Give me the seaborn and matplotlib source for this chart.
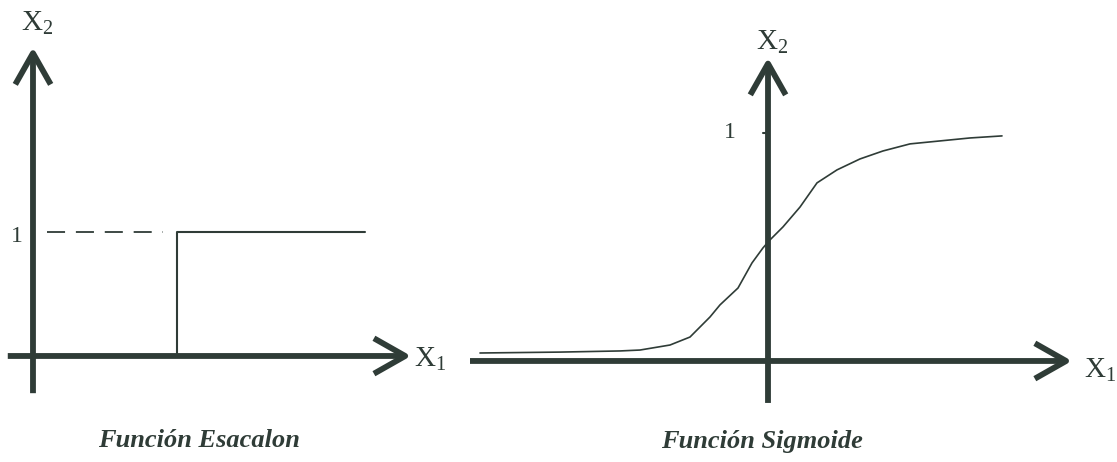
import seaborn as sns
import pandas as pd
import matplotlib.pyplot as plt

# step function (left panel)
step_x = [2.0, 2.0, 4.61]
step_y = [0.0, 1.0, 1.0]
dash_x = [0.19, 1.8]
dash_y = [1.0, 1.0]

# sigmoid (right panel)
sig_x = [-2.88, -2.08, -1.48, -1.28, -0.98, -0.78, -0.58, -0.48, -0.30,
         -0.16, -0.05, 0.02, 0.15, 0.32, 0.49, 0.69, 0.92, 1.15, 1.42,
         1.72, 2.02, 2.34]
sig_y = [0.035, 0.039, 0.044, 0.048, 0.070, 0.105, 0.193, 0.246, 0.320,
         0.430, 0.496, 0.531, 0.588, 0.675, 0.781, 0.838, 0.886, 0.921,
         0.952, 0.965, 0.978, 0.987]

titles = ["Función Esacalon", "Función Sigmoide"]

INK = "#2f3c37"

sns.set_theme(style="white")
plt.rcParams["font.family"] = ["Liberation Serif", "DejaVu Serif"]
plt.rcParams["mathtext.fontset"] = "custom"
plt.rcParams["mathtext.rm"] = "Liberation Serif"
plt.rcParams["mathtext.it"] = "Liberation Serif"

fig = plt.figure(figsize=(11.17, 4.62), dpi=100)
ax1 = fig.add_axes([0, 0, 450 / 1117, 1])
ax2 = fig.add_axes([450 / 1117, 0, 667 / 1117, 1])

ax1.set_xlim(-0.458, 5.79)
ax1.set_ylim(-0.855, 2.871)
ax2.set_xlim(-3.18, 3.49)
ax2.set_ylim(-0.443, 1.583)

for ax in (ax1, ax2):
    ax.axis("off")


def arrow(ax, start, tip):
    ax.annotate("", xy=tip, xytext=start,
                arrowprops=dict(arrowstyle="->,head_length=1.5,head_width=0.85",
                                lw=4.2, color=INK, mutation_scale=15,
                                shrinkA=0, shrinkB=0, capstyle="butt"))


# left panel
arrow(ax1, (-0.35, 0), (5.25, 0))
arrow(ax1, (0, -0.30), (0, 2.49))
sns.lineplot(x=step_x, y=step_y, sort=False, ax=ax1, color=INK, lw=1.5,
             estimator=None)
ax1.plot(dash_x, dash_y, color=INK, lw=1.3, dashes=(10, 6))
ax1.text(0.056, 2.685, r"$\mathrm{X}_2$", fontsize=21, color=INK,
         ha="center", va="center")
ax1.text(5.52, -0.03, r"$\mathrm{X}_1$", fontsize=21, color=INK,
         ha="center", va="center")
ax1.text(-0.22, 0.96, "1", fontsize=17, color=INK, ha="center", va="center")
ax1.text(2.31, -0.685, titles[0], fontsize=19, color=INK, ha="center",
         va="center", fontweight="bold", fontstyle="italic")

# right panel
arrow(ax2, (-2.98, 0), (3.04, 0))
arrow(ax2, (0, -0.184), (0, 1.33))
sns.lineplot(x=sig_x, y=sig_y, sort=False, ax=ax2, color=INK, lw=1.2,
             estimator=None)
ax2.plot([-0.05, 0], [1.0, 1.0], color=INK, lw=1.5)
ax2.text(0.04, 1.395, r"$\mathrm{X}_2$", fontsize=21, color=INK,
         ha="center", va="center")
ax2.text(3.32, -0.04, r"$\mathrm{X}_1$", fontsize=21, color=INK,
         ha="center", va="center")
ax2.text(-0.38, 1.0, "1", fontsize=17, color=INK, ha="center", va="center")
ax2.text(-0.06, -0.351, titles[1], fontsize=19, color=INK, ha="center",
         va="center", fontweight="bold", fontstyle="italic")

fig.savefig("out.png", dpi=100)
